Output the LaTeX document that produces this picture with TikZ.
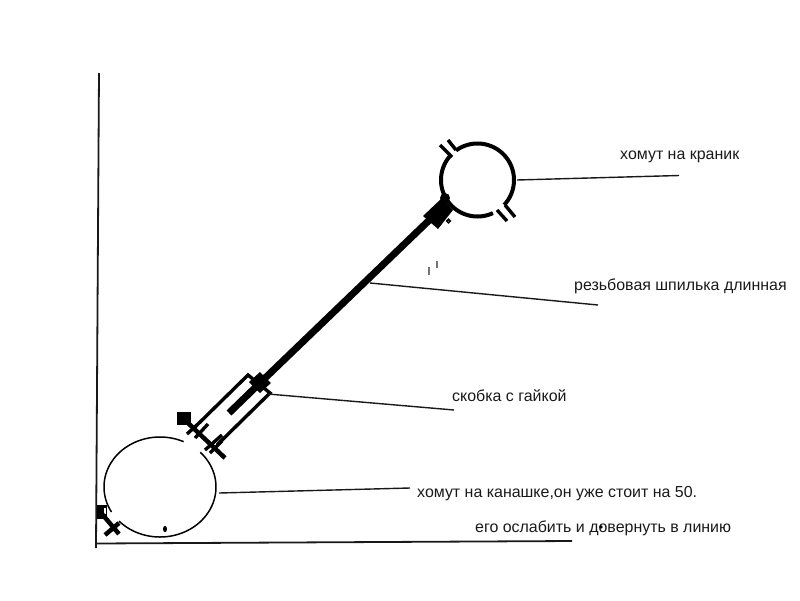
\documentclass[tikz,border=0pt]{standalone}
\usepackage{fontspec}
\setmainfont{Liberation Sans}
\tikzset{
 lab/.style={inner sep=0pt,anchor=base west,font=\fontsize{15.95}{18}\selectfont,text=black!90},
 leader/.style={line width=1.4pt,black!90},
 ring/.style={line width=4pt,black},
 thinring/.style={line width=1.5pt,black},
 axis/.style={line width=1.8pt,black!90},
 rod/.style={line width=7pt,black},
 brk/.style={line width=3.4pt,black},
 blk/.style={fill=black,draw=none},
}
\begin{document}
\begin{tikzpicture}[x=1pt,y=-1pt]
\useasboundingbox (0,0) rectangle (800,600);
% axes
\coordinate (axT) at (99,73);
\coordinate (axO) at (96,548);
\coordinate (axH0) at (95,543.5);
\coordinate (axH1) at (572,541);
\draw[axis] (axT) -- (axO);
\draw[axis] (axH0) -- (axH1);
% upper clamp
\draw[ring,domain=-126:43,samples=70,smooth] plot ({477.5+36.5*cos(\x)},{180+36.5*sin(\x)});
\draw[ring,domain=65:222,samples=70,smooth] plot ({477.5+36.5*cos(\x)},{180+36.5*sin(\x)});
\draw[brk] (440,145) -- (452,157);
\draw[brk] (448,140) -- (456,150);
\draw[brk] (505,205) -- (515,217);
\draw[brk] (497,210) -- (507,221);
% rod
\coordinate (rodA) at (445,205);
\coordinate (rodB) at (262,381);
\coordinate (stubB) at (229,413);
\draw[rod] (rodA) -- (rodB);
\draw[rod] (rodB) -- (stubB);
% upper block
\fill[blk] (423,216) -- (442,198) -- (453,210) -- (438,229) -- cycle;
\fill[black] (445,198) circle[radius=5];
\draw[line width=1.5pt] (448.5,221) circle[radius=1.8];
\fill[black!55] (428.2,267) rectangle (429.8,275);
\fill[black!55] (436,261) rectangle (437.6,268);
% bracket
\fill[blk] (260,372) -- (271,383) -- (260,393) -- (249,382) -- cycle;
\draw[brk] (195,427) -- (248,375) -- (270,393) -- (217,445);
\draw[line width=4.5pt] (188,423) -- (225,458);
\draw[brk] (187,434) -- (197,425);
\draw[brk] (195,438) -- (208,424);
\draw[brk] (205,450) -- (222,435);
\draw[brk] (210,453) -- (222,441);
\fill[blk] (177,412) rectangle (191,425);
% lower clamp
\draw[thinring,domain=-65:-210,samples=80,smooth] plot ({160+56*cos(\x)},{487+50*sin(\x)});
\draw[thinring,domain=137:-44,samples=90,smooth] plot ({160+56*cos(\x)},{487+50*sin(\x)});
\fill[black] (165,529) ellipse[x radius=2,y radius=3.2];
% lower-left fitting
\fill[blk] (97,505) rectangle (107,519);
\fill[white] (104,508) rectangle (106,514);
\draw[line width=4.5pt] (102,514) -- (119,534);
\draw[line width=4.5pt] (105,535) -- (119,523);
% labels
\node[lab] (l1) at (620,159) {хомут на краник};
\node[lab] (l2) at (574,290) {резьбовая шпилька длинная};
\node[lab] (l3) at (452,401) {скобка с гайкой};
\node[lab] (l4) at (417,497) {хомут на канашке,он уже стоит на 50.};
\node[lab] (l5) at (475,532) {его ослабить и довернуть в линию};
\fill[black] (601,527) circle[radius=1.8];
% leaders
\coordinate (p1a) at (517,180); \coordinate (p1b) at (679,175.5);
\coordinate (p2a) at (370,283); \coordinate (p2b) at (598,305);
\coordinate (p3a) at (268,394); \coordinate (p3b) at (454,410);
\coordinate (p4a) at (219,493); \coordinate (p4b) at (410,488);
\draw[leader] (p1a) -- (p1b);
\draw[leader] (p2a) -- (p2b);
\draw[leader] (p3a) -- (p3b);
\draw[leader] (p4a) -- (p4b);
\end{tikzpicture}
\end{document}
